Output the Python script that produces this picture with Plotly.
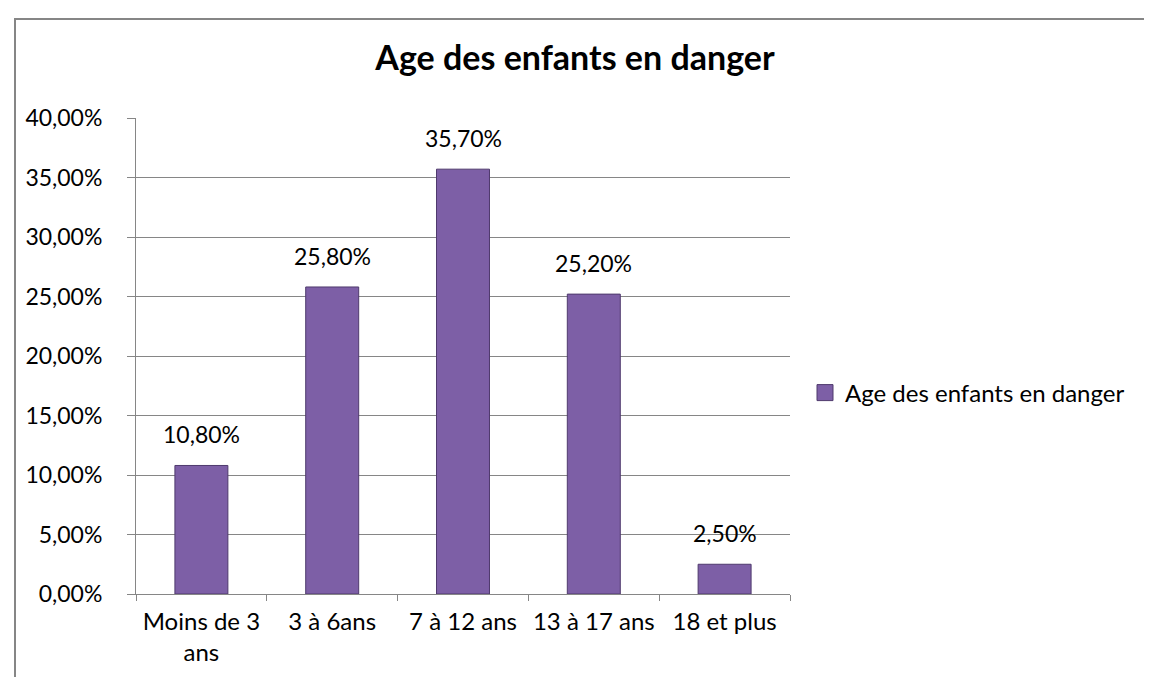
import plotly.graph_objects as go

categories = ["Moins de 3<br>ans", "3 à 6ans", "7 à 12 ans", "13 à 17 ans", "18 et plus"]
values = [0.108, 0.258, 0.357, 0.252, 0.025]
series_name = "Age des enfants en danger"
title_text = "Age des enfants en danger"

W, H = 1152, 677
L, R, T, B = 128, 782, 110, 586  # plot area in pixels

def px_x(p):
    return (p - L) / (R - L)

def px_y(p):
    return (B - p) / (B - T)

FONT = "Lato, 'Open Sans', Arial, sans-serif"
GRAY = "#868686"
FS = 23
BAR_COLOR = "#7D5FA6"

def fr_pct(v):
    return f"{v * 100:.2f}%".replace(".", ",")

fig = go.Figure()
fig.add_trace(go.Bar(
    x=categories, y=values, name=series_name,
    marker=dict(color=BAR_COLOR, line=dict(color="#4F3A6D", width=1)),
    showlegend=False, hoverinfo="x+y",
))
# legend entry with a larger square swatch
fig.add_trace(go.Scatter(
    x=[None], y=[None], mode="markers", name=series_name,
    marker=dict(symbol="square", size=17, color=BAR_COLOR, line=dict(color="#4F3A6D", width=1)),
    showlegend=True,
))

annotations = [
    dict(x=c, y=v, xref="x", yref="y", text=fr_pct(v), showarrow=False,
         yanchor="bottom", yshift=15, font=dict(size=FS, family=FONT, color="#000000"))
    for c, v in zip(categories, values)
]

fig.update_layout(
    width=W, height=H,
    margin=dict(l=L, r=W - R, t=T, b=H - B),
    paper_bgcolor="white", plot_bgcolor="white",
    separators=", ",
    font=dict(family=FONT, size=FS, color="#000000"),
    bargap=0.595,
    title=dict(text="<b>" + title_text + "</b>", x=px_x(567), xref="paper", xanchor="center",
               y=1 - 50 / H, yanchor="middle", font=dict(size=34, family=FONT, color="#000000")),
    showlegend=True,
    legend=dict(x=px_x(797), y=px_y(385), xanchor="left", yanchor="middle",
                font=dict(size=24, family=FONT), itemwidth=30,
                bgcolor="rgba(0,0,0,0)"),
    xaxis=dict(showline=True, linecolor=GRAY, linewidth=1, ticks="outside", tickson="boundaries",
               ticklen=6, tickcolor=GRAY, showgrid=False, tickfont=dict(size=24),
               ticklabelstandoff=6),
    yaxis=dict(range=[0, 0.40], dtick=0.05, tickformat=".2%", showline=True, linecolor=GRAY,
               linewidth=1, ticks="outside", ticklen=8, tickcolor=GRAY, showgrid=True,
               gridcolor=GRAY, gridwidth=1, zeroline=False, tickfont=dict(size=FS),
               ticklabelstandoff=20),
    annotations=annotations,
    shapes=[dict(type="rect", xref="paper", yref="paper",
                 x0=px_x(7), x1=px_x(1170), y0=px_y(700), y1=px_y(11),
                 line=dict(color=GRAY, width=2), fillcolor="rgba(0,0,0,0)", layer="below")],
)

fig.write_html("out.html")
